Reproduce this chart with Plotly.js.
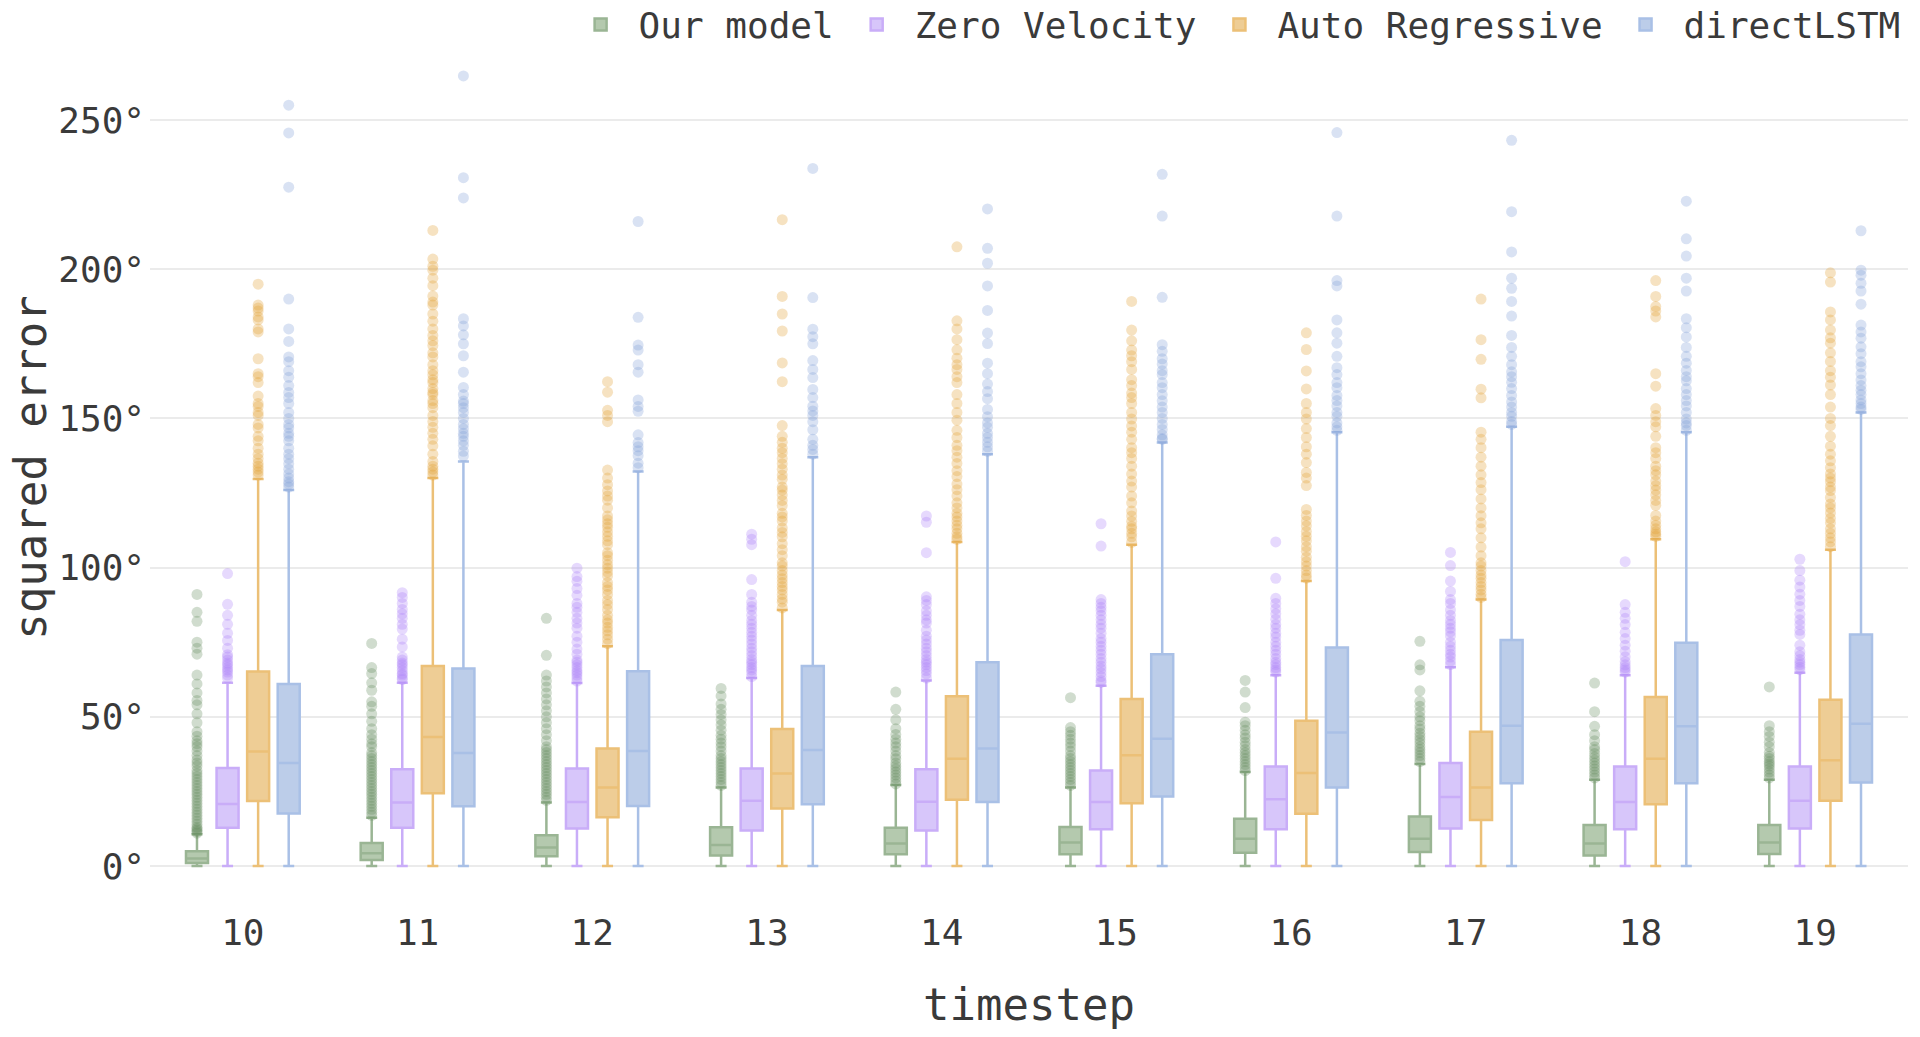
<!DOCTYPE html>
<html>
<head>
<meta charset="utf-8">
<script src="https://cdn.plot.ly/plotly-3.0.1.min.js"></script>
<style>
  html, body { margin: 0; padding: 0; background: #fff; }
  #chart { width: 1920px; height: 1037px; }
</style>
</head>
<body>
<div id="chart"></div>
<script>
var timesteps = [10, 11, 12, 13, 14, 15, 16, 17, 18, 19];
var yTickVals = [0, 50, 100, 150, 200, 250];
var yTickText = ['0°', '50°', '100°', '150°', '200°', '250°'];

// Our model
var ourQ1 = [1, 2, 3.3, 3.5, 3.9, 3.9, 4.4, 4.7, 3.5, 4];
var ourMed = [2.5, 4.3, 6.2, 7, 7.5, 7.9, 9.1, 9.1, 7.5, 7.9];
var ourQ3 = [4.9, 7.7, 10.3, 13, 12.8, 13.1, 15.8, 16.6, 13.7, 13.7];
var ourUpper = [10.6, 16.2, 21.3, 26.3, 27.1, 26.3, 31.5, 34.2, 28.9, 28.9];
var ourOutliers = [
  [11, 11.5, 12, 12.5, 13, 14, 15, 16, 17, 18, 19, 20, 21, 22, 23, 24, 25, 26, 27, 28, 29, 30, 31, 32, 33.5, 34.5, 35.5, 37, 38.5, 40, 41, 42, 43.5, 45, 48, 51, 54, 55.5, 58, 61, 64, 71, 73, 75, 82, 85, 91],
  [17, 18, 19, 20, 21, 22, 23, 24, 25, 26, 27, 28, 29, 30, 31, 32, 33, 34, 35, 36, 37, 38, 40, 41, 42.5, 44, 46, 48.5, 51, 53.5, 55, 58.9, 61.4, 64.5, 66.5, 74.6],
  [22, 23, 24, 25, 26, 27, 28, 29, 30, 31, 32, 33, 34, 35, 36, 37, 38, 39, 40, 42, 44, 46, 48, 50, 52, 54, 56, 58, 60, 62, 64, 70.6, 83],
  [27, 28, 29, 30, 31, 32, 33, 34, 35, 36, 37, 38.5, 40, 41.2, 42.5, 43.8, 45.5, 47.3, 49, 50.8, 52.5, 54.3, 57, 59.5],
  [27.5, 28.5, 29.5, 30.5, 31.5, 32.5, 33.5, 34.5, 35.9, 37, 38.5, 40, 41.2, 42.5, 44.1, 46, 49, 52.5, 58.3],
  [27, 28, 29, 30, 31, 32, 33, 34, 35, 36, 37, 38.5, 40, 41.2, 42.5, 43.8, 45, 46.4, 56.4],
  [32, 33, 34, 35, 36, 37, 38, 39, 40.3, 41.5, 42.9, 44, 45.5, 47, 48.2, 53.1, 58.3, 62.2],
  [35, 36, 37, 38, 39, 40, 41.2, 42.3, 43.4, 44.5, 45.9, 47, 48.7, 50, 51.7, 53.5, 55.2, 58.7, 65.7, 67.4, 75.3],
  [29.5, 30.5, 31.5, 32.5, 33.5, 34.5, 35.5, 36.5, 37.7, 39, 40, 42, 44, 46.8, 51.7, 61.3],
  [29.5, 30.5, 31.5, 32.5, 33.5, 34.2, 35, 36, 36.8, 38, 40, 41.5, 43.4, 45, 47, 60]
];

// Zero Velocity
var zeroQ1 = [12.8, 12.8, 12.6, 11.9, 11.9, 12.3, 12.3, 12.6, 12.3, 12.6];
var zeroMed = [20.8, 21.3, 21.4, 21.9, 21.5, 21.4, 22.4, 23.1, 21.4, 21.9];
var zeroQ3 = [32.8, 32.4, 32.7, 32.7, 32.4, 32, 33.3, 34.5, 33.3, 33.3];
var zeroUpper = [61.4, 61.4, 61.3, 63, 62.2, 60.4, 63.9, 66.6, 63.9, 64.8];
var zeroOutliers = [
  [63, 64, 65, 65.7, 66.5, 67.4, 68, 69, 70, 70.8, 73, 75.6, 78, 81, 84, 87.7, 98],
  [62.5, 63, 64, 64.5, 65.5, 66.5, 67.4, 68, 69, 70, 73.4, 76, 79.4, 81, 83, 84.5, 86, 88, 90, 91.6],
  [62, 63, 64, 64.8, 65.5, 66.5, 67.4, 68.3, 69, 71, 72.7, 75, 77, 79.7, 81.4, 83, 85, 86.7, 88, 90.7, 93, 95.4, 97, 99.8],
  [63.5, 64.8, 65.7, 66.5, 67.5, 68.3, 69.2, 70.5, 71.8, 73, 74.4, 75.7, 77, 78.3, 79.7, 81, 82.3, 84, 85.8, 87, 88.4, 91, 96, 107.7, 109.5, 111.2],
  [63, 64.4, 65.5, 66.5, 67.5, 68.3, 69.2, 70.5, 71.8, 73, 74.4, 75.7, 77, 79, 81.4, 82.5, 84, 85.5, 87.6, 89, 90.2, 105, 115.2, 117.3],
  [61.5, 62.2, 63.5, 64.8, 66, 67, 68.3, 69.5, 71, 72.3, 73.6, 75, 76.2, 78, 79.7, 81, 82.5, 84, 85.5, 86.7, 88, 89.3, 107.2, 114.7],
  [65, 65.7, 66.5, 67.5, 68.3, 69.5, 71, 72.3, 73.6, 75, 76.7, 78, 79.7, 81, 82.7, 84.5, 86.2, 88, 89.7, 96.4, 108.6],
  [67.5, 68.7, 70, 71, 72.3, 73.6, 75, 77.1, 78.5, 79.7, 81, 82.3, 84, 85.8, 88, 89.3, 92, 95.5, 100.7, 105.1],
  [65, 65.7, 66.5, 67.4, 68.5, 70.1, 72, 74, 76.2, 78.3, 80.9, 83, 85, 87.6, 102],
  [65.8, 66.6, 67.5, 68.3, 69.2, 70.5, 71.8, 74, 77.6, 79, 80.9, 82.5, 84.4, 87, 89, 91.1, 93.5, 95.8, 99, 102.8]
];

// Auto Regressive
var autoQ1 = [21.8, 24.4, 16.3, 19.3, 22.2, 21, 17.5, 15.4, 20.7, 21.9];
var autoMed = [38.4, 43.2, 26.3, 31, 35.9, 37.1, 31.2, 26.3, 35.9, 35.4];
var autoQ3 = [65.2, 67, 39.4, 45.9, 56.9, 56, 48.7, 45, 56.6, 55.7];
var autoUpper = [129.7, 130, 73.6, 85.8, 108.6, 107.7, 95.5, 89.3, 109.5, 106];
var autoOutliers = [
  [131, 132, 133, 134, 135, 136.5, 138, 140, 142.5, 144, 146.8, 148, 151, 152, 154, 155, 157.5, 162, 164, 165, 170, 179, 180, 183, 184, 186, 187, 188, 195],
  [131, 132, 133, 134, 135.6, 138, 140.8, 143, 145, 147, 149, 151, 153.6, 155, 156, 158, 158.7, 160, 162, 163, 164.6, 166, 168, 170.6, 172, 174.4, 176, 177.8, 180, 182.6, 185, 188, 189, 191, 194.5, 197, 199.7, 201, 203.4, 213],
  [74.5, 76, 77.5, 78.8, 80, 81.4, 82.5, 84, 86, 87.6, 89, 91, 92.5, 93.7, 95, 97.2, 98.5, 99.8, 101, 102.5, 104, 105, 107.7, 109, 110.5, 112, 113.5, 114.7, 116, 117.3, 120, 122.6, 124, 125.7, 127.8, 130, 132.7, 148.9, 151, 152.7, 158.8, 162.3],
  [86.5, 88.4, 89.5, 91, 92.5, 93.7, 95, 96.3, 97.5, 99, 100.5, 101.6, 104, 106, 108, 110.3, 111.8, 113.3, 115.6, 117, 118.2, 120.8, 122.5, 124.3, 126, 127, 129.6, 131, 133, 134.8, 136.6, 138.5, 140, 142, 144, 147.6, 162.3, 168.6, 179.3, 185, 190.9, 216.6],
  [109.5, 110.3, 111.5, 113, 114.2, 115.6, 117, 118.2, 120, 121.7, 124, 126.1, 128, 130.5, 132.5, 134.9, 137, 139.2, 141, 143.6, 146, 149.4, 152, 155, 158, 162, 164, 166.4, 168, 170.2, 173, 176.4, 180, 182.7, 207.5],
  [108.5, 110.3, 111.5, 113, 113.9, 115.5, 117.3, 119, 121.7, 124, 127, 129, 131.4, 134, 136.6, 138.5, 140.2, 143, 145.4, 147.5, 149.8, 152, 155, 157, 158.5, 161, 163, 166.4, 169, 171, 172.9, 176, 179.6, 189.2],
  [96.5, 97.5, 99, 100.5, 102, 103.5, 105.5, 107, 109, 110.5, 112.1, 114, 115.6, 117.5, 119.5, 127.5, 130, 131.9, 135.2, 138, 140.5, 143.6, 146.6, 149.8, 152, 155, 159.9, 165.9, 173.1, 178.7],
  [90, 91.1, 92.5, 93.7, 95, 96.4, 97.5, 99, 100.5, 101.6, 104, 106.9, 110, 113, 115, 117.4, 120, 123, 126.1, 128.5, 131.1, 134, 137, 140.2, 143, 145.4, 156.9, 159.8, 169.8, 176.4, 190],
  [110.5, 111.2, 112, 113, 114.2, 115.6, 117.5, 120.9, 122.5, 124.4, 126, 127.5, 129, 131.1, 132.5, 134, 136.6, 138.5, 140.2, 144, 147.2, 148.9, 151, 153.3, 160.8, 165, 184, 186, 187.5, 190.9, 196.2],
  [107, 108.6, 110, 111.5, 113, 115, 116.5, 118.3, 120, 121.3, 123.5, 125.8, 127, 128.8, 130, 131.4, 133.5, 135.8, 138, 140.7, 144, 147.6, 150, 153.8, 158, 161.2, 163.8, 166, 169.1, 172, 175.2, 177, 179.6, 183, 185.7, 195.7, 198.8]
];

// directLSTM
var lstmQ1 = [17.6, 20, 20.1, 20.7, 21.4, 23.3, 26.3, 27.7, 27.7, 28];
var lstmMed = [34.5, 37.9, 38.5, 38.9, 39.4, 42.6, 44.7, 47, 46.8, 47.7];
var lstmQ3 = [61, 66.2, 65.3, 67, 68.3, 71, 73.2, 75.7, 74.8, 77.6];
var lstmUpper = [126, 135.6, 132.2, 137, 138, 141.9, 145.4, 147.2, 145.4, 152];
var lstmOutliers = [
  [127, 128, 128.8, 130, 131.4, 133, 134.8, 136.5, 138, 140, 142.5, 144, 145, 146.8, 148, 150, 152, 155, 157, 158.7, 161, 163.8, 166, 169, 170.6, 175.8, 180, 190, 227.5, 245.7, 255],
  [137.4, 139, 141, 142.5, 144, 145, 146.5, 148, 150, 152, 153.6, 155, 155.8, 158, 160.4, 165.5, 171, 175, 178, 181, 183.4, 223.9, 230.7, 264.8],
  [133.5, 135, 137.5, 139.2, 140.5, 141.9, 144.5, 152.4, 154, 156.2, 165.5, 168, 172.9, 174.6, 183.9, 216],
  [138, 139.6, 141, 143, 146.2, 148.9, 151, 152.5, 154.1, 157, 159.7, 163.7, 166.4, 169.4, 175, 177.4, 179.9, 190.5, 233.8],
  [139, 140.5, 142, 143.6, 145, 147, 148.5, 150.6, 153, 156.6, 159, 161.5, 165, 168.5, 175.1, 178.6, 186.2, 194.4, 202, 207, 220.2],
  [143, 143.3, 144.5, 146.3, 148, 150, 152, 153.8, 155.9, 158, 160.3, 162, 164.7, 166, 168.2, 170, 172.5, 174.7, 190.6, 217.8, 231.8],
  [146, 147.2, 148.5, 150.7, 152, 154.2, 156, 157.7, 160.3, 162, 164.7, 167, 170.8, 175.2, 178.7, 183, 194.4, 196.2, 217.8, 245.8],
  [148, 149, 150.7, 152, 153.8, 155.5, 157.7, 160, 162.1, 164, 165.6, 168, 170.8, 173.8, 177.8, 184.3, 189.2, 193.6, 197, 205.8, 219.3, 243.2],
  [146, 147.6, 148.5, 149.8, 152, 154.2, 156, 158, 160, 162.6, 164, 166.1, 168.5, 170.8, 173.8, 177.3, 180.4, 183.4, 192.7, 197, 204.4, 210.2, 222.8],
  [153, 153.8, 155, 156.2, 158, 159.4, 161, 162.9, 165, 167.3, 169, 171.7, 174, 176.9, 179, 181.3, 188.3, 192.7, 195.3, 198, 199.7, 212.9]
];

var zeros = timesteps.map(() => 0);

function boxTrace(name, q1, med, q3, upper, outliers, line, fill, dot) {
    return {
        type: 'box',
        name: name,
        x: timesteps,
        y: outliers,
        q1: q1,
        median: med,
        q3: q3,
        lowerfence: zeros,
        upperfence: upper,
        boxpoints: 'outliers',
        pointpos: 0,
        jitter: 0,
        line: {color: line, width: 2.5},
        fillcolor: fill,
        marker: {color: dot, opacity: 0.3, size: 11, line: {width: 0}},
        hoverinfo: 'skip'
    };
}

var traces = [
    boxTrace('Our model', ourQ1, ourMed, ourQ3, ourUpper, ourOutliers, '#9ab594', '#b4c9ae', 'rgb(100,140,92)'),
    boxTrace('Zero Velocity', zeroQ1, zeroMed, zeroQ3, zeroUpper, zeroOutliers, '#c9adf8', '#d7c6fa', 'rgb(172,128,248)'),
    boxTrace('Auto Regressive', autoQ1, autoMed, autoQ3, autoUpper, autoOutliers, '#ecc077', '#eecd95', 'rgb(225,160,50)'),
    boxTrace('directLSTM', lstmQ1, lstmMed, lstmQ3, lstmUpper, lstmOutliers, '#a9c0e6', '#bccde9', 'rgb(128,160,215)')
];

var layout = {
    width: 1920,
    height: 1037,
    boxmode: 'group',
    boxgap: 0.3,
    boxgroupgap: 0.28,
    paper_bgcolor: '#fff',
    plot_bgcolor: '#fff',
    font: {family: '"DejaVu Sans Mono", monospace', size: 36, color: '#3a3a3a'},
    margin: {l: 150, r: 12, t: 55, b: 157, autoexpand: false},
    showlegend: true,
    legend: {
        orientation: 'h',
        x: 0.9925, xanchor: 'right', xref: 'container',
        y: 1.037, yanchor: 'middle', yref: 'paper',
        font: {size: 36},
        itemwidth: 66,
        traceorder: 'normal'
    },
    xaxis: {
        type: 'category',
        title: {text: 'timestep', font: {size: 44}, standoff: 37},
        showgrid: false,
        zeroline: false,
        showline: false,
        ticks: '',
        ticklabelstandoff: 28,
        automargin: false
    },
    yaxis: {
        title: {text: 'squared error', font: {size: 44}},
        range: [-4.7, 271.8],
        tickmode: 'array',
        tickvals: yTickVals,
        ticktext: yTickText,
        showgrid: true,
        gridcolor: '#ebebeb',
        gridwidth: 2,
        zeroline: false,
        showline: false,
        ticks: '',
        ticklabelstandoff: 4,
        automargin: false
    }
};

Plotly.newPlot('chart', traces, layout, {displayModeBar: false, staticPlot: true});
</script>
</body>
</html>
